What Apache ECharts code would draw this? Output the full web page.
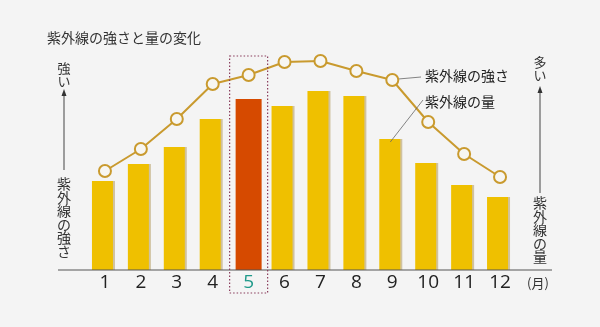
<!DOCTYPE html>
<html><head><meta charset="utf-8">
<script src="https://cdn.jsdelivr.net/npm/echarts@6/dist/echarts.min.js"></script>
<style>html,body{margin:0;padding:0;background:#f4f4f4;}#c{width:600px;height:327px;}</style>
</head><body><div id="c"></div>
<script>
const months = ['1','2','3','4','5','6','7','8','9','10','11','12'];
const uvAmount = [89,106,123,151,171,164,179,174,131,107,85,73];
const uvIntensity = [99,121,151,186,195,208,209,199,190,148,116,93];
const highlightIndex = 4;
const title = '紫外線の強さと量の変化';

const JP = '"Noto Sans CJK JP","Noto Sans",sans-serif';
const chart = echarts.init(document.getElementById('c'));
const yellowData = uvAmount.map((v,i)=> i===highlightIndex ? null : v);
const redData = uvAmount.map((v,i)=> i===highlightIndex ? v : null);

function vtext(s){return s.split('').join('\n');}

chart.setOption({
  backgroundColor:'#f4f4f4',
  animation:false,
  title:{text:title,left:42,top:26,textStyle:{fontFamily:JP,fontSize:14,fontWeight:'normal',color:'#333'}},
  grid:{left:87,width:431,top:30,height:240},
  xAxis:{type:'category',data:months,boundaryGap:true,
    axisLine:{show:false},axisTick:{show:false},
    axisLabel:{interval:0,margin:3,fontSize:19,color:'#222',fontFamily:'"Open Sans","Liberation Sans",sans-serif',
      formatter:(v,i)=> i===highlightIndex ? '{hl|'+v+'}' : v,
      rich:{hl:{color:'#1f9a8a',fontSize:19,fontFamily:'"Open Sans","Liberation Sans",sans-serif'}}}},
  yAxis:{type:'value',min:0,max:240,show:false},
  series:[
    {type:'bar',data:yellowData,barWidth:21,barGap:'-100%',
      itemStyle:{color:'#efc000',shadowColor:'rgba(140,100,0,0.35)',shadowOffsetX:2,shadowBlur:0},z:2},
    {type:'bar',data:redData,barWidth:26,barGap:'-100%',
      itemStyle:{color:'#d64a00'},z:2},
    {type:'line',data:uvIntensity,symbol:'circle',symbolSize:12,
      lineStyle:{color:'#c99a2e',width:2},
      itemStyle:{color:'#f7f6f2',borderColor:'#c99a2e',borderWidth:2},z:5}
  ]
});

const p = (i,v)=>chart.convertToPixel({gridIndex:0},[i,v]);
const c5 = p(highlightIndex,0);
const i9 = p(8,uvIntensity[8]);
const a9 = p(8,uvAmount[8]);
const base = c5[1];
const lineCol = '#444';
chart.setOption({graphic:[
  {type:'line',shape:{x1:58,y1:base,x2:552,y2:base},style:{stroke:'#555',lineWidth:1.2},z:10},
  {type:'rect',shape:{x:c5[0]-19,y:56,width:38,height:237},style:{fill:null,stroke:'#8a3d5c',lineWidth:1.2,lineDash:[1.5,2]},z:10},
  // left axis annotation
  {type:'text',x:64,y:62,style:{text:vtext('強い'),font:'13px '+JP,fill:'#333',align:'center',verticalAlign:'top',lineHeight:13}},
  {type:'line',shape:{x1:64,y1:95,x2:64,y2:170},style:{stroke:lineCol,lineWidth:1}},
  {type:'polygon',shape:{points:[[64,89],[61.5,96],[66.5,96]]},style:{fill:'#333'}},
  {type:'text',x:64,y:177,style:{text:vtext('紫外線の強さ'),font:'14px '+JP,fill:'#333',align:'center',verticalAlign:'top',lineHeight:13.5}},
  // right axis annotation
  {type:'text',x:540,y:56,style:{text:vtext('多い'),font:'13px '+JP,fill:'#333',align:'center',verticalAlign:'top',lineHeight:13}},
  {type:'line',shape:{x1:540,y1:92,x2:540,y2:193},style:{stroke:lineCol,lineWidth:1}},
  {type:'polygon',shape:{points:[[540,86],[537.5,93],[542.5,93]]},style:{fill:'#333'}},
  {type:'text',x:540,y:196,style:{text:vtext('紫外線の量'),font:'14px '+JP,fill:'#333',align:'center',verticalAlign:'top',lineHeight:13.5}},
  {type:'text',x:538,y:283,style:{text:'(月)',font:'13px '+JP,fill:'#333',align:'center',verticalAlign:'middle'}},
  // series labels
  {type:'line',shape:{x1:i9[0]+6,y1:i9[1]-1,x2:421,y2:77},style:{stroke:'#666',lineWidth:0.8}},
  {type:'text',x:425,y:76,style:{text:'紫外線の強さ',font:'14px '+JP,fill:'#222',verticalAlign:'middle'}},
  {type:'line',shape:{x1:a9[0]-2,y1:a9[1]+3,x2:423,y2:100},style:{stroke:'#666',lineWidth:0.8},z:10},
  {type:'text',x:425,y:102,style:{text:'紫外線の量',font:'14px '+JP,fill:'#222',verticalAlign:'middle'}}
]});
</script></body></html>
